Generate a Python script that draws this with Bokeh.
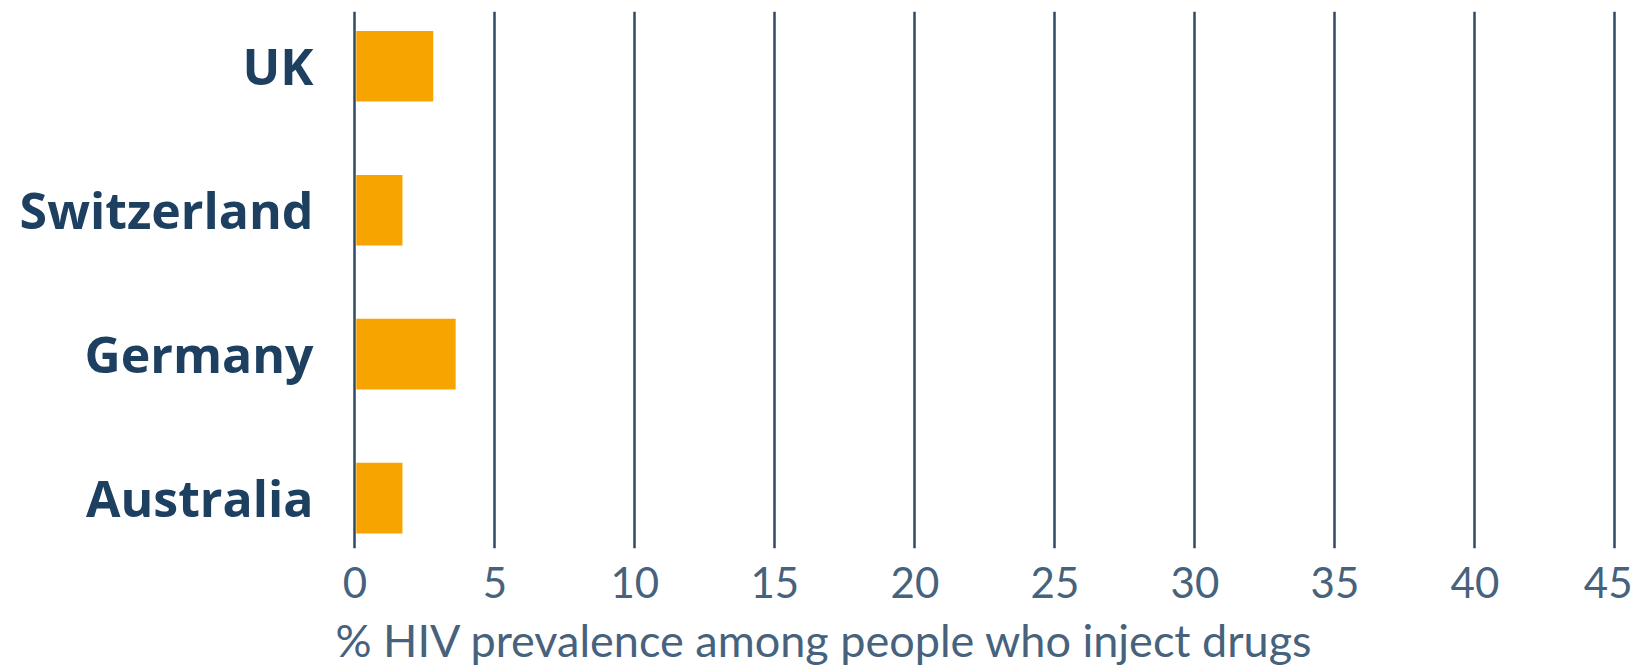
from bokeh.plotting import figure
from bokeh.models import Range1d, FixedTicker, Title, ColumnDataSource
from bokeh.embed import file_html
from bokeh.resources import INLINE

countries = ["UK", "Switzerland", "Germany", "Australia"]
prevalence = [2.8, 1.7, 3.6, 1.7]
x_ticks = [0, 5, 10, 15, 20, 25, 30, 35, 40, 45]
x_title = "% HIV prevalence among people who inject drugs"

n = len(countries)
ypos = [n - 1 - i for i in range(n)]
src = ColumnDataSource(dict(country=countries, value=prevalence, y=ypos))

p = figure(frame_width=1269, frame_height=537,
           x_range=Range1d(-0.12, 45.2), y_range=Range1d(-0.35, n - 1 + 0.38),
           output_backend="svg", toolbar_location=None,
           min_border_left=351, min_border_top=11, min_border_right=12,
           min_border_bottom=100)
p.outline_line_color = None
p.background_fill_color = "white"

p.hbar(y="y", right="value", left=0.05, height=0.49, source=src,
       fill_color="#f7a400", line_color=None)

# x axis
p.xaxis.ticker = FixedTicker(ticks=x_ticks)
p.xaxis.axis_line_color = None
p.xaxis.major_tick_line_color = None
p.xaxis.minor_tick_line_color = None
p.xaxis.major_label_standoff = 12
p.xaxis.major_label_text_font = "Lato"
p.xaxis.major_label_text_font_size = "42px"
p.xaxis.major_label_text_color = "#46627d"

# y axis
p.yaxis.ticker = FixedTicker(ticks=ypos)
p.yaxis.major_label_overrides = {y: c for y, c in zip(ypos, countries)}
p.yaxis.axis_line_color = None
p.yaxis.major_tick_line_color = None
p.yaxis.minor_tick_line_color = None
p.yaxis.major_label_standoff = 32
p.yaxis.major_label_text_font = "Open Sans"
p.yaxis.major_label_text_font_style = "bold"
p.yaxis.major_label_text_font_size = "50px"
p.yaxis.major_label_text_color = "#1d3f60"

p.ygrid.grid_line_color = None
p.xgrid.ticker = FixedTicker(ticks=x_ticks)
p.xgrid.grid_line_color = "#2f4a62"
p.xgrid.grid_line_width = 2.5

p.add_layout(Title(text=x_title, align="left", offset=-16,
                   text_font="Lato", text_font_style="normal",
                   text_font_size="45px", text_color="#46627d",
                   standoff=20), "below")

open("out.html", "w").write(file_html(p, INLINE))
